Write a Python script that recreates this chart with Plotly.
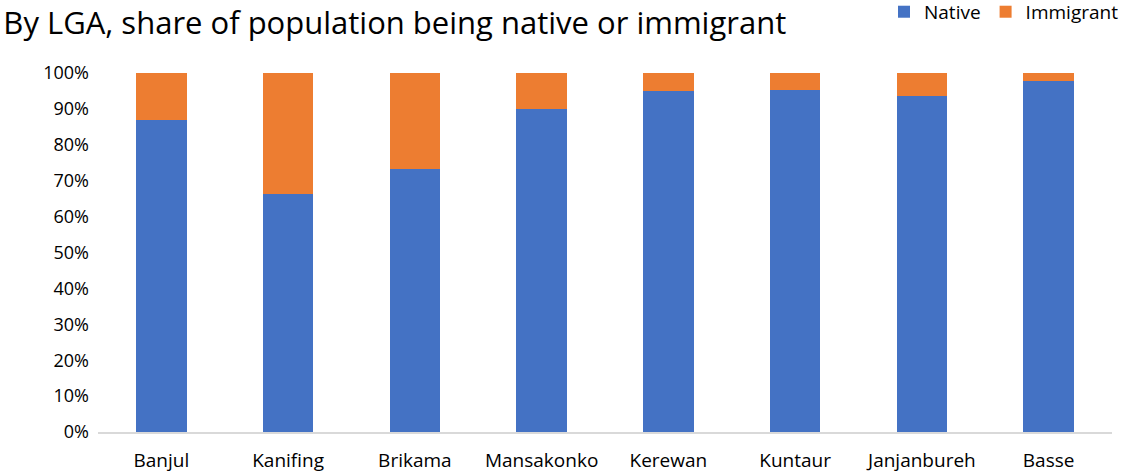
import plotly.graph_objects as go

lgas = ["Banjul", "Kanifing", "Brikama", "Mansakonko", "Kerewan", "Kuntaur", "Janjanbureh", "Basse"]
native = [0.868, 0.662, 0.733, 0.901, 0.949, 0.952, 0.935, 0.979]
immigrant = [round(1 - v, 3) for v in native]

FONT = "Open Sans"

fig = go.Figure()
fig.add_trace(go.Bar(x=lgas, y=native, name="Native", marker=dict(color="#4472C4", line=dict(width=0)), width=0.4))
fig.add_trace(go.Bar(x=lgas, y=immigrant, name="Immigrant", marker=dict(color="#ED7D31", line=dict(width=0)), width=0.4))

fig.update_layout(
    barmode="stack",
    width=1124, height=475,
    margin=dict(l=98, r=12, t=73, b=43, autoexpand=False),
    paper_bgcolor="white", plot_bgcolor="white",
    font=dict(family=FONT, color="#000000", size=18),
    title=dict(text="By LGA, share of population being native or immigrant",
               x=0.003, xanchor="left", xref="container", y=0.952, yanchor="middle",
               yref="container",
               font=dict(family=FONT, size=31, color="#000000"), pad=dict(l=0, t=0, b=0, r=0)),
    legend=dict(orientation="h", x=1.0, xanchor="right", xref="container",
                y=0.975, yanchor="middle", yref="container",
                font=dict(family=FONT, size=19), traceorder="normal",
                itemwidth=30, tracegroupgap=0, bgcolor="rgba(0,0,0,0)"),
    xaxis=dict(showline=True, linecolor="#D9D9D9", linewidth=1.5, showgrid=False,
               ticks="", ticklabelstandoff=10, tickfont=dict(size=19), automargin=False),
    yaxis=dict(range=[0, 1], dtick=0.1, tickformat=".0%", showgrid=False,
               showline=False, zeroline=False, ticks="", ticklabelstandoff=8,
               tickfont=dict(size=18), automargin=False),
)

fig.write_html("out.html")
